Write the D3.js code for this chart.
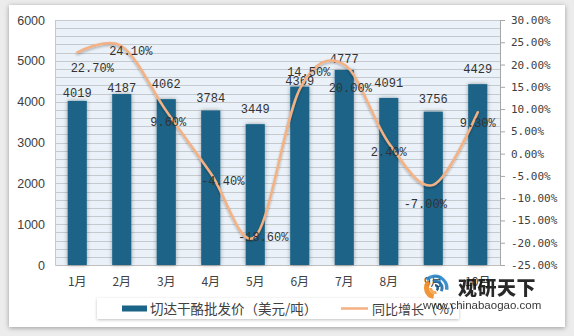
<!DOCTYPE html>
<html><head><meta charset="utf-8">
<script src="https://cdn.jsdelivr.net/npm/d3@7"></script>
<style>
html,body{margin:0;padding:0;background:#ececec;}
svg{display:block;}
</style></head>
<body>
<svg id="chart" width="574" height="336"></svg>
<script>
// ---- data ----
const categories = ["1月","2月","3月","4月","5月","6月","7月","8月","9月","10月"];
const prices = [4019,4187,4062,3784,3449,4369,4777,4091,3756,4429];
const growth = [22.7,24.1,9.6,-4.4,-18.6,14.5,20.0,2.4,-7.0,9.3];
const leftTicks = [0,1000,2000,3000,4000,5000,6000];
const rightTicks = [-25,-20,-15,-10,-5,0,5,10,15,20,25,30];
const seriesNames = ["切达干酪批发价（美元/吨）","同比增长（%）"];

// ---- label layout (pixel offsets, not data) ----
const barLabelDy = [-7.6,-6.7,-15.8,-12.2,-15,-5.6,-10.7,-15.2,-13.3,-14.9];
const pctLabelOff = [[15,15.5],[9,5],[2,11],[12,8],[8,0],[9,-17],[6,23],[0,9],[-8,19],[0,11]];

const svg = d3.select("#chart");
const defs = svg.append("defs");
const f1 = defs.append("filter").attr("id","frameShadow").attr("x","-5%").attr("y","-5%").attr("width","110%").attr("height","110%");
f1.append("feDropShadow").attr("dx",0).attr("dy",1).attr("stdDeviation",2.5).attr("flood-color","#000").attr("flood-opacity",0.35);
const f2 = defs.append("filter").attr("id","barShadow").attr("x","-50%").attr("y","-10%").attr("width","200%").attr("height","120%");
f2.append("feDropShadow").attr("dx",0).attr("dy",0).attr("stdDeviation",2).attr("flood-color","#000").attr("flood-opacity",0.35);
const f3 = defs.append("filter").attr("id","lineShadow").attr("x","-10%").attr("y","-10%").attr("width","120%").attr("height","130%");
f3.append("feDropShadow").attr("dx",0).attr("dy",1.5).attr("stdDeviation",1.2).attr("flood-color","#000").attr("flood-opacity",0.3);
const f4 = defs.append("filter").attr("id","legShadow").attr("x","-5%").attr("y","-30%").attr("width","110%").attr("height","160%");
f4.append("feDropShadow").attr("dx",0).attr("dy",1).attr("stdDeviation",1.5).attr("flood-color","#000").attr("flood-opacity",0.25);

// outer frame
svg.append("rect").attr("x",9).attr("y",5).attr("width",556).attr("height",322)
  .attr("fill","#fff").attr("filter","url(#frameShadow)");

const plot = {left:55,right:500,top:20,bottom:265};

const x = d3.scaleBand().domain(categories).range([plot.left,plot.right]).paddingInner(0.57).paddingOuter(0.285);
const xp = d3.scalePoint().domain(categories).range([plot.left,plot.right]).padding(0.5);
const yL = d3.scaleLinear().domain([0,6000]).range([plot.bottom,plot.top]);
const yR = d3.scaleLinear().domain([-25,30]).range([plot.bottom,plot.top]);

// plot background
svg.append("rect").attr("x",plot.left).attr("y",plot.top).attr("width",plot.right-plot.left).attr("height",plot.bottom-plot.top)
  .attr("fill","#eaf1f8");

// minor gridlines every 200
const gridVals = d3.range(200,6001,200);
svg.append("g").selectAll("line").data(gridVals).join("line")
  .attr("x1",plot.left).attr("x2",plot.right)
  .attr("y1",d=>Math.round(yL(d))+0.5).attr("y2",d=>Math.round(yL(d))+0.5)
  .attr("stroke","#c5cacf").attr("stroke-width",1);

// left axis
const gL = svg.append("g").attr("transform",`translate(${plot.left},0)`)
  .call(d3.axisLeft(yL).tickValues(leftTicks).tickSize(0).tickPadding(10).tickFormat(d3.format("d")));
gL.select(".domain").attr("stroke","#c8c8c8");
gL.selectAll("text").attr("font-family","'Liberation Sans', Arial, sans-serif").attr("font-size","12.5px").attr("fill","#404040");

// right axis
const gR = svg.append("g").attr("transform",`translate(${plot.right},0)`)
  .call(d3.axisRight(yR).tickValues(rightTicks).tickSize(5).tickPadding(6).tickFormat(d=>d.toFixed(2)+"%"));
gR.select(".domain").attr("stroke","#a6a6a6");
gR.selectAll(".tick line").attr("stroke","#a6a6a6");
gR.selectAll("text").attr("font-family","'DejaVu Sans Mono', monospace").attr("font-size","11px").attr("fill","#404040");

// bottom axis
const gB = svg.append("g").attr("transform",`translate(0,${plot.bottom})`)
  .call(d3.axisBottom(x).tickSize(0).tickPadding(12));
gB.select(".domain").attr("stroke","#bfbfbf");
gB.selectAll("text").attr("font-family","'Noto Sans CJK SC', sans-serif").attr("font-size","12px").attr("fill","#404040");

// bars
const barColor = "#1a6487";
svg.append("g").selectAll("rect").data(prices).join("rect")
  .attr("x",(d,i)=>x(categories[i])).attr("width",x.bandwidth())
  .attr("y",d=>yL(d)).attr("height",d=>plot.bottom-yL(d))
  .attr("fill",barColor).attr("filter","url(#barShadow)");

// bar labels
svg.append("g").selectAll("text").data(prices).join("text")
  .attr("x",(d,i)=>x(categories[i])+x.bandwidth()/2)
  .attr("y",(d,i)=>yL(d)+barLabelDy[i])
  .attr("dy","0.35em").attr("text-anchor","middle")
  .attr("font-family","'Liberation Mono', monospace").attr("font-size","12px").attr("fill","#333")
  .text(d=>d);

// line
const line = d3.line().x((d,i)=>xp(categories[i])).y(d=>yR(d)).curve(d3.curveCatmullRom.alpha(0));
svg.append("path").datum(growth).attr("d",line)
  .attr("fill","none").attr("stroke","#f4b183").attr("stroke-width",2.5).attr("stroke-linecap","round")
  .attr("filter","url(#lineShadow)");

// pct labels
svg.append("g").selectAll("text").data(growth).join("text")
  .attr("x",(d,i)=>xp(categories[i])+pctLabelOff[i][0])
  .attr("y",(d,i)=>yR(d)+pctLabelOff[i][1])
  .attr("dy","0.35em").attr("text-anchor","middle")
  .attr("font-family","'Liberation Mono', monospace").attr("font-size","12px").attr("fill","#333")
  .text(d=>d.toFixed(2)+"%");

// legend
const lg = svg.append("g");
lg.append("rect").attr("x",97).attr("y",298).attr("width",362).attr("height",21).attr("fill","#fff").attr("filter","url(#legShadow)");
lg.append("rect").attr("x",122).attr("y",305.5).attr("width",25).attr("height",6).attr("fill",barColor);
lg.append("text").attr("x",150).attr("y",309).attr("dy","0.35em")
  .attr("font-family","'Noto Sans CJK SC', sans-serif").attr("font-size","13.5px").attr("fill","#404040").text(seriesNames[0]);
lg.append("line").attr("x1",341).attr("x2",368).attr("y1",308.5).attr("y2",308.5).attr("stroke","#f4b183").attr("stroke-width",2.5);
lg.append("text").attr("x",372).attr("y",309).attr("dy","0.35em")
  .attr("font-family","'Noto Sans CJK SC', sans-serif").attr("font-size","13px").attr("fill","#404040").text(seriesNames[1]);

// watermark logo
const wm = svg.append("g").attr("transform","translate(435,288)").attr("opacity",0.9);
const arc = d3.arc();
wm.append("path").attr("d",arc({innerRadius:6,outerRadius:11,startAngle:Math.PI*1.05,endAngle:Math.PI*1.75})).attr("fill","#f08a24");
wm.append("path").attr("d",arc({innerRadius:3,outerRadius:6,startAngle:Math.PI*0.9,endAngle:Math.PI*1.5})).attr("fill","#f5a34a");
wm.append("path").attr("d",arc({innerRadius:10,outerRadius:13.5,startAngle:-Math.PI*0.25,endAngle:Math.PI*0.55})).attr("fill","#2b86c8");
wm.append("path").attr("d",arc({innerRadius:5.5,outerRadius:8.5,startAngle:-Math.PI*0.1,endAngle:Math.PI*0.65})).attr("fill","#1f6ea8");
wm.append("path").attr("d",arc({innerRadius:1.5,outerRadius:4,startAngle:0,endAngle:Math.PI*0.8})).attr("fill","#14507e");
wm.append("text").attr("x",23).attr("y",0).attr("dy","0.35em")
  .attr("font-family","'Noto Sans CJK SC', sans-serif").attr("font-weight","900").attr("font-size","19px").attr("fill","#111")
  .attr("letter-spacing","0.5px").text("观研天下");
wm.append("text").attr("x",-12).attr("y",17).attr("dy","0.35em")
  .attr("font-family","'Liberation Sans', Arial, sans-serif").attr("font-size","11.5px").attr("fill","#222")
  .text("www.chinabaogao.com");
</script>
</body></html>
